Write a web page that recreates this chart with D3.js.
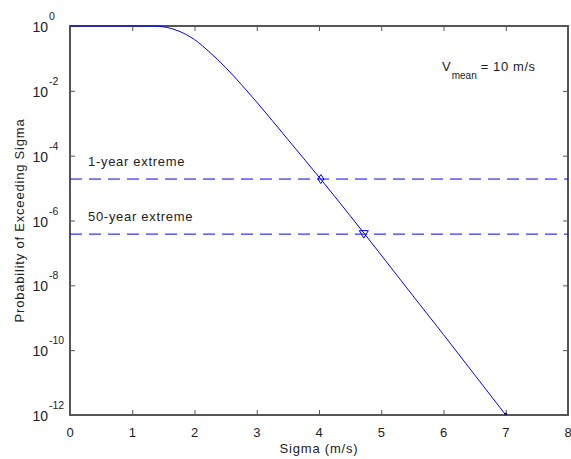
<!DOCTYPE html>
<html>
<head>
<meta charset="utf-8">
<script src="https://cdn.jsdelivr.net/npm/d3@7"></script>
<style>
  html, body { margin: 0; padding: 0; background: #fff; }
  svg { display: block; font-family: "Liberation Sans", Arial, sans-serif; }
</style>
</head>
<body>
<svg id="chart" width="571" height="459"></svg>
<script>
// ---- data ----
const sigma = [0, 0.5, 1.0, 1.35, 1.4, 1.5, 1.75, 2.0, 2.25, 2.5, 2.75, 3.0, 3.5, 4.0, 4.5, 5.0, 5.5, 6.0, 6.5, 7.0];
const probExceed = [1, 1, 1, 1, 0.9931, 0.944, 0.692, 0.380, 0.151, 0.0525, 0.0158, 4.47e-3, 3.16e-4, 2.19e-5, 1.41e-6, 8.51e-8, 5.01e-9, 3.02e-10, 1.74e-11, 1e-12];
const extremeLabels = ["1-year extreme", "50-year extreme"];
const extremeProb = [1.9e-5, 3.8e-7];
const extremeSigma = [4.03, 4.72];
const extremeMarker = ["diamond", "triangle"];
const endPoint = [7.0, 1e-12];
const xTicks = [0, 1, 2, 3, 4, 5, 6, 7, 8];
const yTickExp = [0, -2, -4, -6, -8, -10, -12];

// ---- layout ----
const L = 70, R = 568, T = 26, B = 415;
const svg = d3.select("#chart");
const x = d3.scaleLinear().domain([0, 8]).range([L, R]);
const y = d3.scaleLog().domain([1e-12, 1]).range([B, T]);
const axisColor = "#555";
const textColor = "#222";
const blue = "#0000ff";

// axes (ticks inward, box)
const yVals = yTickExp.map(e => Math.pow(10, e));
function styleAxis(g) {
  g.select(".domain").remove();
  g.selectAll(".tick line").attr("stroke", axisColor).attr("stroke-width", 1);
  g.selectAll(".tick text").remove();
}
svg.append("g").attr("transform", `translate(0,${B})`)
  .call(d3.axisBottom(x).tickValues(xTicks).tickSize(-5).tickFormat(""))
  .call(styleAxis);
svg.append("g").attr("transform", `translate(0,${T})`)
  .call(d3.axisTop(x).tickValues(xTicks).tickSize(-5).tickFormat(""))
  .call(styleAxis);
svg.append("g").attr("transform", `translate(${L},0)`)
  .call(d3.axisLeft(y).tickValues(yVals).tickSize(-5).tickFormat(""))
  .call(styleAxis);
svg.append("g").attr("transform", `translate(${R},0)`)
  .call(d3.axisRight(y).tickValues(yVals).tickSize(-5).tickFormat(""))
  .call(styleAxis);

svg.append("rect")
  .attr("x", L).attr("y", T).attr("width", R - L).attr("height", B - T)
  .attr("fill", "none").attr("stroke", axisColor).attr("stroke-width", 1.2)
  .attr("shape-rendering", "crispEdges");

// x tick labels
svg.append("g").selectAll("text").data(xTicks).join("text")
  .attr("x", d => x(d)).attr("y", B + 22)
  .attr("text-anchor", "middle").attr("font-size", 13).attr("fill", textColor)
  .text(d => d);

// y tick labels (10^e)
const yl = svg.append("g").selectAll("g").data(yTickExp).join("g");
yl.append("text")
  .attr("x", 48).attr("y", d => y(Math.pow(10, d)) + 6)
  .attr("text-anchor", "end").attr("font-size", 14).attr("fill", textColor)
  .text("10");
yl.append("text")
  .attr("x", 49).attr("y", d => y(Math.pow(10, d)) - 6)
  .attr("text-anchor", "start").attr("font-size", 10.5).attr("fill", textColor)
  .text(d => d === 0 ? "0" : "-" + Math.abs(d));

// axis titles
svg.append("text")
  .attr("x", (L + R) / 2).attr("y", 453)
  .attr("text-anchor", "middle").attr("font-size", 13).attr("letter-spacing", 0.8)
  .attr("fill", textColor)
  .text("Sigma (m/s)");
svg.append("text")
  .attr("transform", `translate(24,${(T + B) / 2}) rotate(-90)`)
  .attr("text-anchor", "middle").attr("font-size", 13).attr("letter-spacing", 0.8)
  .attr("fill", textColor)
  .text("Probability of Exceeding Sigma");

// dashed extreme lines
svg.append("g").selectAll("line").data(extremeProb).join("line")
  .attr("x1", L).attr("x2", R)
  .attr("y1", d => y(d)).attr("y2", d => y(d))
  .attr("stroke", blue).attr("stroke-width", 1)
  .attr("stroke-dasharray", "12,7");

svg.append("g").selectAll("text").data(extremeLabels).join("text")
  .attr("x", 88).attr("y", (d, i) => y(extremeProb[i]) - 13)
  .attr("font-size", 13).attr("letter-spacing", 0.7).attr("fill", textColor)
  .text(d => d);

// curve
const line = d3.line()
  .x((d, i) => x(sigma[i]))
  .y(d => y(d))
  .curve(d3.curveMonotoneX);
svg.append("path")
  .datum(probExceed)
  .attr("d", line)
  .attr("fill", "none").attr("stroke", blue).attr("stroke-width", 1);

// markers
svg.append("g").selectAll("path").data(extremeSigma).join("path")
  .attr("transform", (d, i) => `translate(${x(d)},${y(extremeProb[i])})`)
  .attr("d", (d, i) => extremeMarker[i] === "diamond"
    ? "M0,-4.5 L3,0 L0,4.5 L-3,0 Z"
    : "M-4.5,-3.5 L4.5,-3.5 L0,4 Z")
  .attr("fill", "none").attr("stroke", blue).attr("stroke-width", 1);

svg.append("circle")
  .attr("cx", x(endPoint[0])).attr("cy", y(endPoint[1]) - 1)
  .attr("r", 1.3).attr("fill", "#000050");

// annotation
const ann = svg.append("text").attr("x", 442).attr("y", 71)
  .attr("font-size", 13).attr("fill", textColor);
ann.append("tspan").text("V");
ann.append("tspan").attr("font-size", 10).attr("dy", 8).attr("dx", 1).text("mean");
ann.append("tspan").attr("dy", -8).attr("dx", 4).attr("letter-spacing", 0.6).text("= 10 m/s");
</script>
</body>
</html>
